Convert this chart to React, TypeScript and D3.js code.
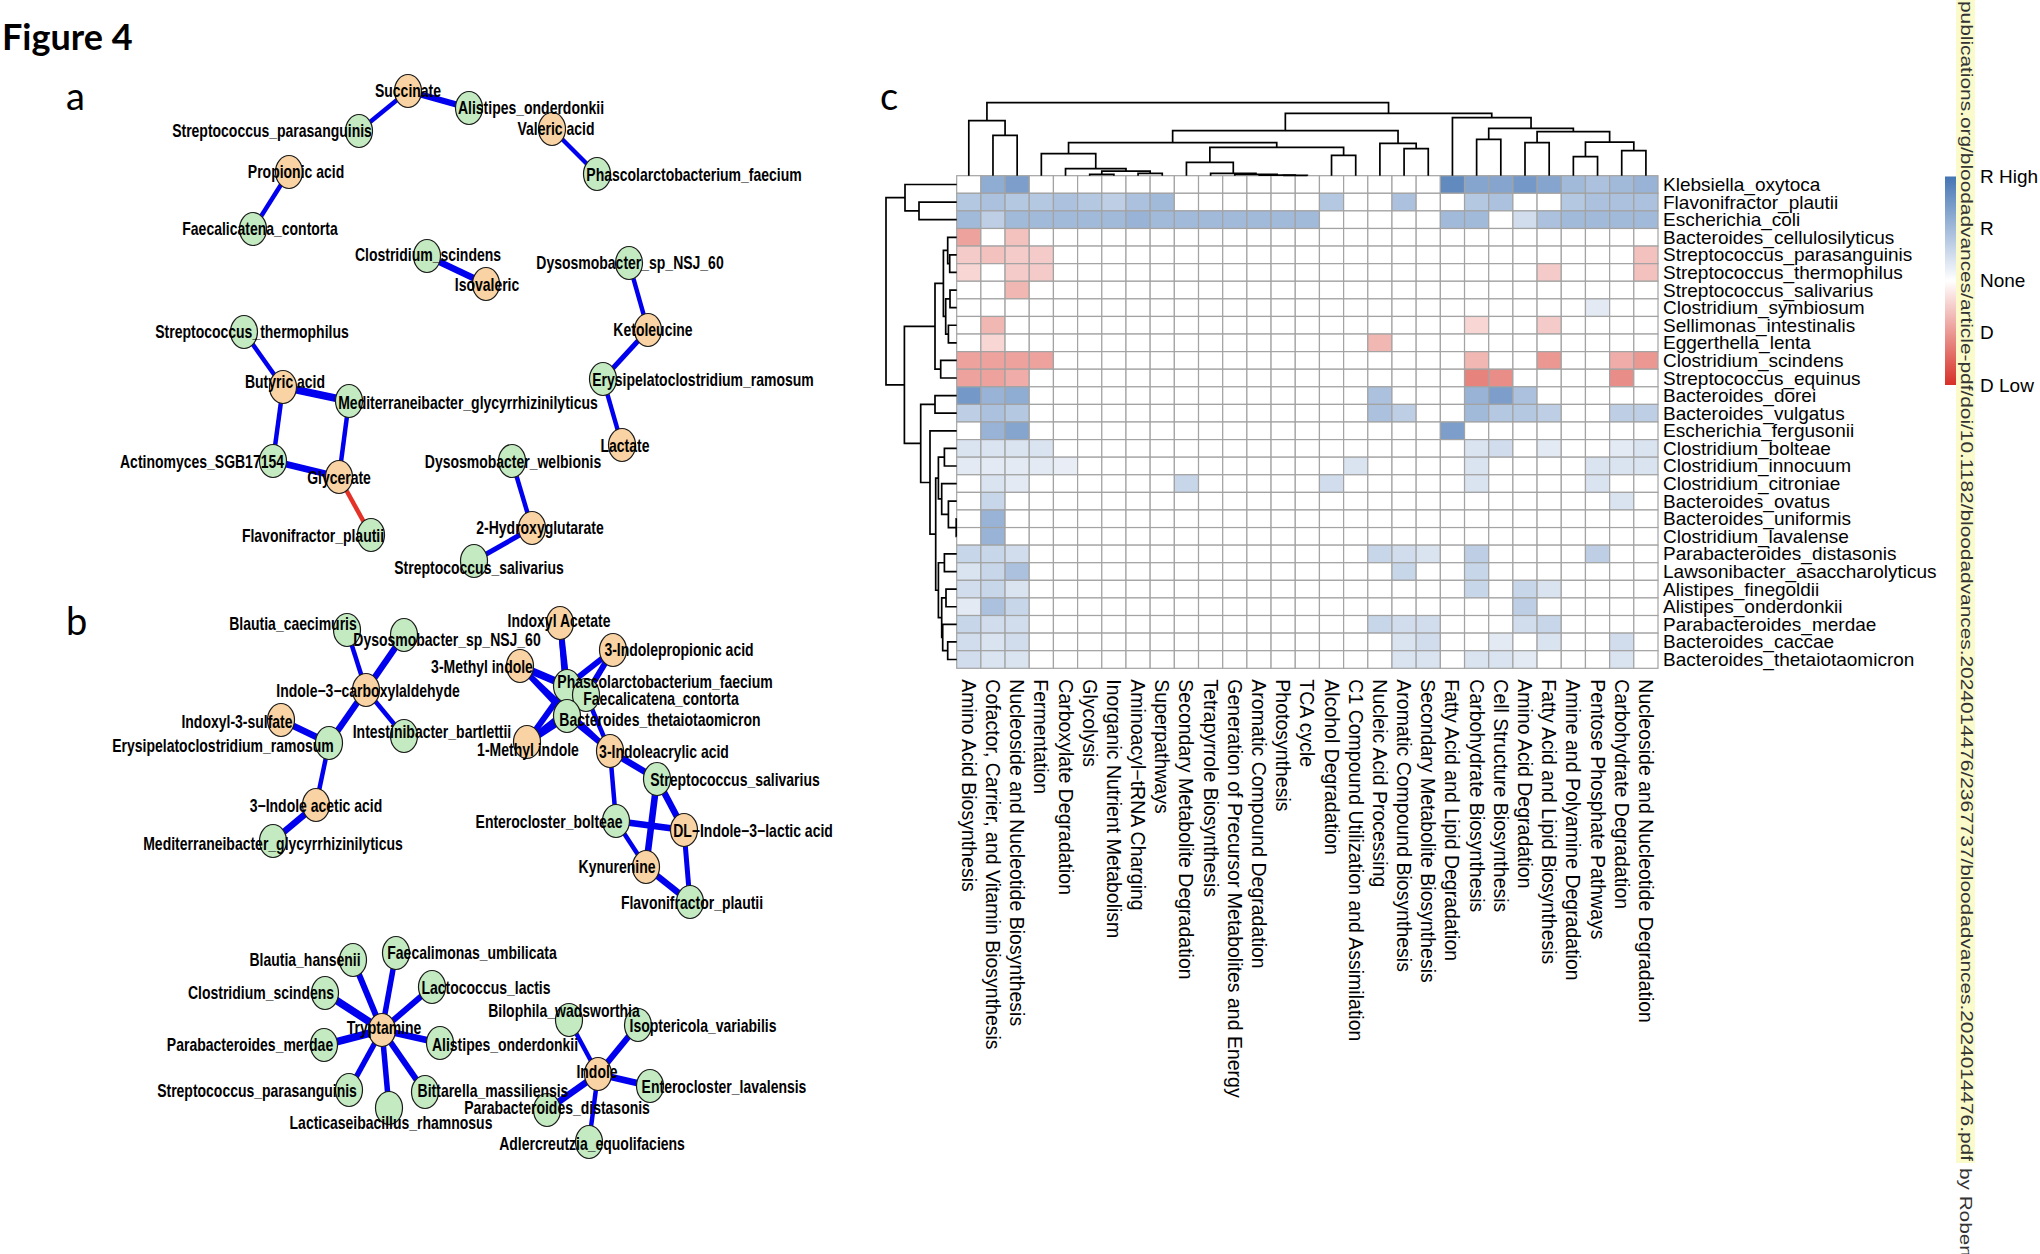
import React from "react";
import * as d3 from "d3";

// ---------------- Heatmap data ----------------
const rowNames = [
  "Klebsiella_oxytoca", "Flavonifractor_plautii", "Escherichia_coli", "Bacteroides_cellulosilyticus",
  "Streptococcus_parasanguinis", "Streptococcus_thermophilus", "Streptococcus_salivarius", "Clostridium_symbiosum",
  "Sellimonas_intestinalis", "Eggerthella_lenta", "Clostridium_scindens", "Streptococcus_equinus",
  "Bacteroides_dorei", "Bacteroides_vulgatus", "Escherichia_fergusonii", "Clostridium_bolteae",
  "Clostridium_innocuum", "Clostridium_citroniae", "Bacteroides_ovatus", "Bacteroides_uniformis",
  "Clostridium_lavalense", "Parabacteroides_distasonis", "Lawsonibacter_asaccharolyticus", "Alistipes_finegoldii",
  "Alistipes_onderdonkii", "Parabacteroides_merdae", "Bacteroides_caccae", "Bacteroides_thetaiotaomicron",
];

const colNames = [
  "Amino Acid Biosynthesis", "Cofactor, Carrier, and Vitamin Biosynthesis", "Nucleoside and Nucleotide Biosynthesis",
  "Fermentation", "Carboxylate Degradation", "Glycolysis", "Inorganic Nutrient Metabolism", "Aminoacyl\u2212tRNA Charging",
  "Superpathways", "Secondary Metabolite Degradation", "Tetrapyrrole Biosynthesis",
  "Generation of Precursor Metabolites and Energy", "Aromatic Compound Degradation", "Photosynthesis", "TCA cycle",
  "Alcohol Degradation", "C1 Compound Utilization and Assimilation", "Nucleic Acid Processing",
  "Aromatic Compound Biosynthesis", "Secondary Metabolite Biosynthesis", "Fatty Acid and Lipid Degradation",
  "Carbohydrate Biosynthesis", "Cell Structure Biosynthesis", "Amino Acid Degradation",
  "Fatty Acid and Lipid Biosynthesis", "Amine and Polyamine Degradation", "Pentose Phosphate Pathways",
  "Carbohydrate Degradation", "Nucleoside and Nucleotide Degradation",
];

// rows x 29 columns (cols 0-9 | 10-19 | 20-28)
const cellValues: number[][] = [
  [0, .6, .7, 0, 0, 0, 0, 0, 0, 0, 0, 0, 0, 0, 0, 0, 0, 0, 0, 0, .85, .65, .65, .75, .65, .5, .45, .5, .55],
  [.4, .45, .4, .4, .45, .4, .35, .45, .5, 0, 0, 0, 0, 0, 0, .4, 0, 0, .45, 0, 0, .4, .45, 0, 0, .4, .45, .45, .45],
  [.5, .35, .5, .5, .5, .5, .5, .55, .5, .5, .5, .5, .5, .5, .5, 0, 0, 0, 0, 0, .5, .5, 0, .25, .45, .5, .5, .5, .5],
  [-.45, 0, -.3, 0, 0, 0, 0, 0, 0, 0, 0, 0, 0, 0, 0, 0, 0, 0, 0, 0, 0, 0, 0, 0, 0, 0, 0, 0, 0],
  [-.25, -.3, -.25, -.25, 0, 0, 0, 0, 0, 0, 0, 0, 0, 0, 0, 0, 0, 0, 0, 0, 0, 0, 0, 0, 0, 0, 0, 0, -.3],
  [-.2, 0, -.25, -.25, 0, 0, 0, 0, 0, 0, 0, 0, 0, 0, 0, 0, 0, 0, 0, 0, 0, 0, 0, 0, -.25, 0, 0, 0, -.3],
  [0, 0, -.35, 0, 0, 0, 0, 0, 0, 0, 0, 0, 0, 0, 0, 0, 0, 0, 0, 0, 0, 0, 0, 0, 0, 0, 0, 0, 0],
  [0, 0, 0, 0, 0, 0, 0, 0, 0, 0, 0, 0, 0, 0, 0, 0, 0, 0, 0, 0, 0, 0, 0, 0, 0, 0, .15, 0, 0],
  [0, -.35, 0, 0, 0, 0, 0, 0, 0, 0, 0, 0, 0, 0, 0, 0, 0, 0, 0, 0, 0, -.2, 0, 0, -.25, 0, 0, 0, 0],
  [0, -.2, 0, 0, 0, 0, 0, 0, 0, 0, 0, 0, 0, 0, 0, 0, 0, -.35, 0, 0, 0, 0, 0, 0, 0, 0, 0, 0, 0],
  [-.45, -.45, -.45, -.45, 0, 0, 0, 0, 0, 0, 0, 0, 0, 0, 0, 0, 0, 0, 0, 0, 0, -.35, 0, 0, -.5, 0, 0, -.4, -.5],
  [-.45, -.45, -.4, 0, 0, 0, 0, 0, 0, 0, 0, 0, 0, 0, 0, 0, 0, 0, 0, 0, 0, -.6, -.55, 0, 0, 0, 0, -.55, 0],
  [.75, .55, .6, 0, 0, 0, 0, 0, 0, 0, 0, 0, 0, 0, 0, 0, 0, .45, 0, 0, 0, .55, .7, .45, 0, 0, 0, 0, 0],
  [.35, .45, .4, 0, 0, 0, 0, 0, 0, 0, 0, 0, 0, 0, 0, 0, 0, .45, .35, 0, 0, .5, .4, .4, .35, 0, 0, .35, .35],
  [0, .55, .65, 0, 0, 0, 0, 0, 0, 0, 0, 0, 0, 0, 0, 0, 0, 0, 0, 0, .7, 0, 0, 0, 0, 0, 0, 0, 0],
  [.2, .2, .2, .2, 0, 0, 0, 0, 0, 0, 0, 0, 0, 0, 0, 0, 0, 0, 0, 0, 0, .2, .25, 0, .15, 0, 0, .15, .2],
  [.15, .15, .15, .15, .12, 0, 0, 0, 0, 0, 0, 0, 0, 0, 0, 0, .2, 0, 0, 0, 0, .2, 0, 0, 0, 0, .2, .2, .2],
  [0, .2, .15, 0, 0, 0, 0, 0, 0, .3, 0, 0, 0, 0, 0, .25, 0, 0, 0, 0, 0, .2, 0, 0, 0, 0, .2, 0, 0],
  [0, .3, 0, 0, 0, 0, 0, 0, 0, 0, 0, 0, 0, 0, 0, 0, 0, 0, 0, 0, 0, 0, 0, 0, 0, 0, 0, .2, 0],
  [0, .55, 0, 0, 0, 0, 0, 0, 0, 0, 0, 0, 0, 0, 0, 0, 0, 0, 0, 0, 0, 0, 0, 0, 0, 0, 0, 0, 0],
  [0, .55, 0, 0, 0, 0, 0, 0, 0, 0, 0, 0, 0, 0, 0, 0, 0, 0, 0, 0, 0, 0, 0, 0, 0, 0, 0, 0, 0],
  [.3, .3, .25, 0, 0, 0, 0, 0, 0, 0, 0, 0, 0, 0, 0, 0, 0, .3, .25, .2, 0, .35, 0, 0, 0, 0, .35, 0, 0],
  [.2, .3, .45, 0, 0, 0, 0, 0, 0, 0, 0, 0, 0, 0, 0, 0, 0, 0, .3, 0, 0, .3, 0, 0, 0, 0, 0, 0, 0],
  [.25, .3, .2, 0, 0, 0, 0, 0, 0, 0, 0, 0, 0, 0, 0, 0, 0, 0, 0, 0, 0, .3, 0, .3, .2, 0, 0, 0, 0],
  [.15, .45, .3, 0, 0, 0, 0, 0, 0, 0, 0, 0, 0, 0, 0, 0, 0, 0, 0, 0, 0, 0, 0, .35, 0, 0, 0, 0, 0],
  [.3, .25, .25, 0, 0, 0, 0, 0, 0, 0, 0, 0, 0, 0, 0, 0, 0, .3, .25, .25, 0, 0, 0, .25, .3, 0, 0, 0, 0],
  [.25, .2, .25, 0, 0, 0, 0, 0, 0, 0, 0, 0, 0, 0, 0, 0, 0, 0, .2, .25, 0, 0, .15, 0, .2, 0, 0, .25, 0],
  [.25, .2, .2, 0, 0, 0, 0, 0, 0, 0, 0, 0, 0, 0, 0, 0, 0, 0, .2, .2, 0, .2, .2, .15, 0, 0, 0, .2, 0],
];

// Dendrograms: leaf index or [left, right, mergeHeight]
type Tree = number | [Tree, Tree, number];
const colTree: Tree = [
  [0, [1, 2, 121], 165],
  [
    [
      [
        [3, [4, [[5, 6, 4], [7, 8, 7], 14], 21], 66],
        [[9, [10, [11, [12, [13, 14, 1], 2], 4], 7], 40], [15, 16, 61], 85],
        99,
      ],
      [17, [18, 19, 81], 97],
      135,
    ],
    [20, [[21, 22, 109], [[23, 24, 99], [[25, 26, 57], [27, 28, 75], 101], 132], 142], 174],
    187,
  ],
  219,
];
const rowTree: Tree = [
  [0, [1, 2, 37.7], 51.7],
  [
    [[[3, [4, 5, 7], 9], [[6, 7, 6.7], [8, 9, 8.3], 11], 13.3], [10, 11, 16], 21.7],
    [
      [12, 13, 21.7],
      [
        14,
        [
          [[15, 16, 12.3], [17, [18, [19, 20, 0.5], 8.3], 15], 18.3],
          [[21, 22, 12.3], [[23, 24, 10.7], [25, [26, 27, 9], 14], 15], 18.3],
          21,
        ],
        26.7,
      ],
      36,
    ],
    52.3,
  ],
  70.7,
];
const colTreeMax = 219;
const rowTreeMax = 70.7;

const legendLabels = ["R High", "R", "None", "D", "D Low"];
const legendValues = [1, 0.5, 0, -0.5, -1];

// ---------------- Network data ----------------
// [name, kind (o = metabolite, g = species), layoutX, layoutY, labelDx, labelDy]
type NodeRow = [string, string, number, number, number, number];
type EdgeRow = [string, string, number, string];

const netANodes: NodeRow[] = [
  ["Succinate", "o", 408, 91, 0, 0],
  ["Alistipes_onderdonkii", "g", 469, 108, 62, 0],
  ["Streptococcus_parasanguinis", "g", 359, 131, -87, 0],
  ["Valeric acid", "o", 552, 129, 4, 0],
  ["Phascolarctobacterium_faecium", "g", 597, 174, 97, 1],
  ["Propionic acid", "o", 289, 172, 7, 0],
  ["Faecalicatena_contorta", "g", 253, 229, 7, 0],
  ["Clostridium_scindens", "g", 427, 256, 1, -1],
  ["Isovaleric", "o", 486, 284, 1, 1],
  ["Dysosmobacter_sp_NSJ_60", "g", 629, 263, 1, 0],
  ["Ketoleucine", "o", 648, 330, 5, 0],
  ["Erysipelatoclostridium_ramosum", "g", 603, 379, 100, 1],
  ["Lactate", "o", 622, 445, 3, 1],
  ["Streptococcus_thermophilus", "g", 244, 332, 8, 0],
  ["Butyric acid", "o", 283, 387, 2, -5],
  ["Mediterraneibacter_glycyrrhizinilyticus", "g", 349, 401, 119, 2],
  ["Actinomyces_SGB17154", "g", 273, 461, -71, 1],
  ["Glycerate", "o", 339, 477, 0, 1],
  ["Flavonifractor_plautii", "g", 371, 535, -58, 1],
  ["Dysosmobacter_welbionis", "g", 512, 461, 1, 1],
  ["2-Hydroxyglutarate", "o", 532, 528, 8, 0],
  ["Streptococcus_salivarius", "g", 474, 561, 5, 7],
];
const netAEdges: EdgeRow[] = [
  ["Succinate", "Streptococcus_parasanguinis", 4.5, "+"],
  ["Succinate", "Alistipes_onderdonkii", 6, "+"],
  ["Valeric acid", "Phascolarctobacterium_faecium", 4.5, "+"],
  ["Propionic acid", "Faecalicatena_contorta", 4.5, "+"],
  ["Clostridium_scindens", "Isovaleric", 6.5, "+"],
  ["Dysosmobacter_sp_NSJ_60", "Ketoleucine", 4.5, "+"],
  ["Ketoleucine", "Erysipelatoclostridium_ramosum", 5, "+"],
  ["Erysipelatoclostridium_ramosum", "Lactate", 4.5, "+"],
  ["Streptococcus_thermophilus", "Butyric acid", 4.5, "+"],
  ["Butyric acid", "Mediterraneibacter_glycyrrhizinilyticus", 7.5, "+"],
  ["Butyric acid", "Actinomyces_SGB17154", 4.5, "+"],
  ["Mediterraneibacter_glycyrrhizinilyticus", "Glycerate", 4.5, "+"],
  ["Actinomyces_SGB17154", "Glycerate", 6.5, "+"],
  ["Glycerate", "Flavonifractor_plautii", 4.5, "-"],
  ["Dysosmobacter_welbionis", "2-Hydroxyglutarate", 4.5, "+"],
  ["2-Hydroxyglutarate", "Streptococcus_salivarius", 5, "+"],
];

const netBNodes: NodeRow[] = [
  ["Blautia_caecimuris", "g", 347, 630, -54, -6],
  ["Dysosmobacter_sp_NSJ_60", "g", 404, 635, 43, 5],
  ["Indole\u22123\u2212carboxylaldehyde", "o", 366, 690, 2, 1],
  ["Indoxyl-3-sulfate", "o", 281, 720, -44, 2],
  ["Erysipelatoclostridium_ramosum", "g", 329, 743, -106, 3],
  ["Intestinibacter_bartlettii", "g", 404, 736, 28, -4],
  ["3\u2212Indole acetic acid", "o", 316, 805, 0, 1],
  ["Mediterraneibacter_glycyrrhizinilyticus", "g", 273, 841, 0, 3],
  ["Indoxyl Acetate", "o", 560, 623, -1, -2],
  ["3-Indolepropionic acid", "o", 613, 650, 66, 0],
  ["3-Methyl indole", "o", 520, 666, -38, 1],
  ["Phascolarctobacterium_faecium", "g", 567, 686, 98, -4],
  ["Faecalicatena_contorta", "g", 586, 695, 75, 4],
  ["Bacteroides_thetaiotaomicron", "g", 567, 716, 93, 4],
  ["1-Methyl indole", "o", 527, 742, 1, 8],
  ["3-Indoleacrylic acid", "o", 610, 751, 54, 1],
  ["Streptococcus_salivarius", "g", 657, 779, 78, 1],
  ["Enterocloster_bolteae", "g", 616, 821, -67, 1],
  ["DL\u2212Indole\u22123\u2212lactic acid", "o", 684, 830, 69, 1],
  ["Kynurenine", "o", 646, 867, -29, 0],
  ["Flavonifractor_plautii", "g", 690, 902, 2, 1],
  ["Tryptamine", "o", 382, 1030, 2, -2],
  ["Blautia_hansenii", "g", 353, 960, -48, 0],
  ["Faecalimonas_umbilicata", "g", 396, 953, 76, 0],
  ["Lactococcus_lactis", "g", 432, 987, 54, 1],
  ["Clostridium_scindens", "g", 325, 993, -64, 0],
  ["Parabacteroides_merdae", "g", 324, 1045, -74, 0],
  ["Alistipes_onderdonkii", "g", 440, 1043, 65, 2],
  ["Streptococcus_parasanguinis", "g", 349, 1090, -92, 1],
  ["Bittarella_massiliensis", "g", 425, 1092, 68, -1],
  ["Lacticaseibacillus_rhamnosus", "g", 389, 1108, 2, 15],
  ["Indole", "o", 598, 1074, -1, -2],
  ["Bilophila_wadsworthia", "g", 569, 1020, -5, -9],
  ["Isoptericola_variabilis", "g", 638, 1025, 65, 1],
  ["Enterocloster_lavalensis", "g", 650, 1086, 74, 1],
  ["Parabacteroides_distasonis", "g", 547, 1110, 10, -2],
  ["Adlercreutzia_equolifaciens", "g", 589, 1142, 3, 2],
];
const netBEdges: EdgeRow[] = [
  ["Blautia_caecimuris", "Indole\u22123\u2212carboxylaldehyde", 4.5, "+"],
  ["Dysosmobacter_sp_NSJ_60", "Indole\u22123\u2212carboxylaldehyde", 6.5, "+"],
  ["Indole\u22123\u2212carboxylaldehyde", "Erysipelatoclostridium_ramosum", 6.5, "+"],
  ["Indole\u22123\u2212carboxylaldehyde", "Intestinibacter_bartlettii", 4.5, "+"],
  ["Indoxyl-3-sulfate", "Erysipelatoclostridium_ramosum", 6.5, "+"],
  ["Erysipelatoclostridium_ramosum", "3\u2212Indole acetic acid", 4.5, "+"],
  ["3\u2212Indole acetic acid", "Mediterraneibacter_glycyrrhizinilyticus", 6.5, "+"],
  ["Indoxyl Acetate", "Phascolarctobacterium_faecium", 6, "+"],
  ["Indoxyl Acetate", "Bacteroides_thetaiotaomicron", 4.5, "+"],
  ["3-Indolepropionic acid", "Phascolarctobacterium_faecium", 6, "+"],
  ["3-Indolepropionic acid", "Faecalicatena_contorta", 6, "+"],
  ["3-Methyl indole", "Phascolarctobacterium_faecium", 7.5, "+"],
  ["3-Methyl indole", "Bacteroides_thetaiotaomicron", 5, "+"],
  ["3-Methyl indole", "3-Indoleacrylic acid", 4.5, "+"],
  ["1-Methyl indole", "Phascolarctobacterium_faecium", 6, "+"],
  ["1-Methyl indole", "Bacteroides_thetaiotaomicron", 7.5, "+"],
  ["1-Methyl indole", "Faecalicatena_contorta", 5, "+"],
  ["Bacteroides_thetaiotaomicron", "3-Indoleacrylic acid", 5, "+"],
  ["Faecalicatena_contorta", "3-Indoleacrylic acid", 4.5, "+"],
  ["3-Indoleacrylic acid", "Streptococcus_salivarius", 6.5, "+"],
  ["3-Indoleacrylic acid", "Enterocloster_bolteae", 4.5, "+"],
  ["Streptococcus_salivarius", "Kynurenine", 6.5, "+"],
  ["Streptococcus_salivarius", "DL\u2212Indole\u22123\u2212lactic acid", 6.5, "+"],
  ["Enterocloster_bolteae", "DL\u2212Indole\u22123\u2212lactic acid", 6.5, "+"],
  ["Enterocloster_bolteae", "Kynurenine", 4.5, "+"],
  ["Kynurenine", "Flavonifractor_plautii", 6.5, "+"],
  ["DL\u2212Indole\u22123\u2212lactic acid", "Flavonifractor_plautii", 5, "+"],
  ["Tryptamine", "Blautia_hansenii", 6, "+"],
  ["Tryptamine", "Faecalimonas_umbilicata", 5.5, "+"],
  ["Tryptamine", "Lactococcus_lactis", 6, "+"],
  ["Tryptamine", "Clostridium_scindens", 7.5, "+"],
  ["Tryptamine", "Parabacteroides_merdae", 7.5, "+"],
  ["Tryptamine", "Alistipes_onderdonkii", 6.5, "+"],
  ["Tryptamine", "Streptococcus_parasanguinis", 5.5, "+"],
  ["Tryptamine", "Bittarella_massiliensis", 6, "+"],
  ["Tryptamine", "Lacticaseibacillus_rhamnosus", 5.5, "+"],
  ["Indole", "Bilophila_wadsworthia", 4.5, "+"],
  ["Indole", "Isoptericola_variabilis", 6, "+"],
  ["Indole", "Enterocloster_lavalensis", 6.5, "+"],
  ["Indole", "Parabacteroides_distasonis", 6.5, "+"],
  ["Indole", "Adlercreutzia_equolifaciens", 4.5, "+"],
];

const watermarkUrl =
  "publications.org/bloodadvances/article-pdf/doi/10.1182/bloodadvances.2024014476/2367737/bloodadvances.2024014476.pdf";
const watermarkTail = "by Robert Orlov";

// ---------------- Layout ----------------
const W = 2040;
const H = 1254;
const HM = { left: 956.7, right: 1658, top: 175.7, bottom: 668.3 };
const SANS = "'Liberation Sans', Arial, Helvetica, sans-serif";

type Seg = { pa: number; ha: number; pb: number; hb: number; h: number };
function walk(t: Tree, leafPos: (i: number) => number, segs: Seg[]): { p: number; h: number } {
  if (typeof t === "number") return { p: leafPos(t), h: 0 };
  const a = walk(t[0], leafPos, segs);
  const b = walk(t[1], leafPos, segs);
  segs.push({ pa: a.p, ha: a.h, pb: b.p, hb: b.h, h: t[2] });
  return { p: (a.p + b.p) / 2, h: t[2] };
}

const color = d3
  .scaleLinear<string>()
  .domain([-1, 0, 1])
  .range(["#d73027", "#ffffff", "#4575b4"])
  .interpolate(d3.interpolateRgb);

function Network({ nodes, edges }: { nodes: NodeRow[]; edges: EdgeRow[] }) {
  const sx = d3.scaleIdentity();
  const sy = d3.scaleIdentity();
  const byName = new Map(nodes.map((n) => [n[0], n]));
  return (
    <g>
      {edges.map((e, i) => {
        const s = byName.get(e[0])!;
        const t = byName.get(e[1])!;
        return (
          <line
            key={"e" + i}
            x1={sx(s[2])}
            y1={sy(s[3])}
            x2={sx(t[2])}
            y2={sy(t[3])}
            stroke={e[3] === "+" ? "#0000ee" : "#e53228"}
            strokeWidth={e[2]}
          />
        );
      })}
      {nodes.map((n, i) => (
        <ellipse
          key={"n" + i}
          cx={sx(n[2])}
          cy={sy(n[3])}
          rx={13.5}
          ry={16.5}
          fill={n[1] === "o" ? "#f9d3a3" : "#c3eac0"}
          stroke="#1a1a1a"
          strokeWidth={1.2}
        />
      ))}
      {nodes.map((n, i) => (
        <text
          key={"l" + i}
          transform={`translate(${sx(n[2] + n[4])},${sy(n[3] + n[5])}) scale(0.8,1)`}
          textAnchor="middle"
          dominantBaseline="central"
          fontFamily={SANS}
          fontWeight="bold"
          fontSize={17.5}
          fill="#000"
        >
          {n[0]}
        </text>
      ))}
    </g>
  );
}

export default function App() {
  const nCol = colNames.length;
  const nRow = rowNames.length;
  const x = d3.scaleBand<number>().domain(d3.range(nCol)).range([HM.left, HM.right]);
  const y = d3.scaleBand<number>().domain(d3.range(nRow)).range([HM.top, HM.bottom]);
  const cw = x.bandwidth();
  const ch = y.bandwidth();

  const colSegs: Seg[] = [];
  walk(colTree, (i) => x(i)! + cw / 2, colSegs);
  const colH = d3.scaleLinear().domain([0, colTreeMax]).range([HM.top, 102.7]);
  const rowSegs: Seg[] = [];
  walk(rowTree, (i) => y(i)! + ch / 2, rowSegs);
  const rowH = d3.scaleLinear().domain([0, rowTreeMax]).range([HM.left, 886]);

  const legendY = d3.scaleLinear().domain([1, -1]).range([176.5, 385]);

  return (
    <svg
      width={W}
      height={H}
      viewBox={`0 0 ${W} ${H}`}
      style={{ position: "absolute", left: 0, top: 0, background: "#fff" }}
    >
      <rect x={0} y={0} width={W} height={H} fill="#fff" />
      <defs>
        <linearGradient id="legGrad" x1="0" y1="0" x2="0" y2="1">
          {legendValues.map((v, i) => (
            <stop key={i} offset={`${(i / (legendValues.length - 1)) * 100}%`} stopColor={color(v)} />
          ))}
        </linearGradient>
      </defs>

      {/* Titles and panel letters */}
      <text x={2} y={50} fontFamily="Lato, 'Open Sans', sans-serif" fontWeight="bold" fontSize={36}>
        Figure 4
      </text>
      <text x={66} y={110} fontFamily="Lato, 'Open Sans', sans-serif" fontSize={38}>
        a
      </text>
      <text x={66} y={635} fontFamily="Lato, 'Open Sans', sans-serif" fontSize={38}>
        b
      </text>
      <text x={880} y={110} fontFamily="Lato, 'Open Sans', sans-serif" fontSize={38}>
        c
      </text>

      {/* Networks */}
      <Network nodes={netANodes} edges={netAEdges} />
      <Network nodes={netBNodes} edges={netBEdges} />

      {/* Heatmap cells */}
      <g>
        {cellValues.map((row, r) =>
          row.map((v, c) => (
            <rect
              key={`c${r}-${c}`}
              x={x(c)!}
              y={y(r)!}
              width={cw}
              height={ch}
              fill={color(v)}
              stroke="#a3a3a3"
              strokeWidth={1.2}
            />
          ))
        )}
      </g>

      {/* Dendrograms */}
      <g fill="none" stroke="#000" strokeWidth={1.7}>
        {colSegs.map((s, i) => (
          <path
            key={"cd" + i}
            d={`M${s.pa},${colH(s.ha)}V${colH(s.h)}H${s.pb}V${colH(s.hb)}`}
          />
        ))}
        {rowSegs.map((s, i) => (
          <path
            key={"rd" + i}
            d={`M${rowH(s.ha)},${s.pa}H${rowH(s.h)}V${s.pb}H${rowH(s.hb)}`}
          />
        ))}
      </g>

      {/* Row labels */}
      <g fontFamily={SANS} fontSize={19} fill="#000">
        {rowNames.map((n, r) => (
          <text key={"rl" + r} x={HM.right + 5} y={y(r)! + ch / 2} dominantBaseline="central">
            {n}
          </text>
        ))}
      </g>

      {/* Column labels */}
      <g fontFamily={SANS} fontSize={19.5} fill="#000">
        {colNames.map((n, c) => (
          <text
            key={"cl" + c}
            transform={`translate(${x(c)! + cw / 2},${HM.bottom + 11}) rotate(90)`}
            dominantBaseline="central"
          >
            {n}
          </text>
        ))}
      </g>

      {/* Legend */}
      <rect x={1945} y={legendY(1)} width={15} height={legendY(-1) - legendY(1)} fill="url(#legGrad)" />
      <g fontFamily={SANS} fontSize={19} fill="#000">
        {legendLabels.map((l, i) => (
          <text key={"lg" + i} x={1980} y={legendY(legendValues[i])} dominantBaseline="central">
            {l}
          </text>
        ))}
      </g>

      {/* Watermark */}
      <rect x={1956} y={0} width={19} height={1163} fill="#fbfacb" />
      <text
        transform="translate(1966,1) rotate(90)"
        fontFamily={SANS}
        fontSize={17}
        fill="#333"
        dominantBaseline="central"
        textLength={1160}
        lengthAdjust="spacingAndGlyphs"
      >
        {watermarkUrl}
      </text>
      <text
        transform="translate(1966,1168) rotate(90) scale(1.22,1)"
        fontFamily={SANS}
        fontSize={17}
        fill="#333"
        dominantBaseline="central"
      >
        {watermarkTail}
      </text>
    </svg>
  );
}
